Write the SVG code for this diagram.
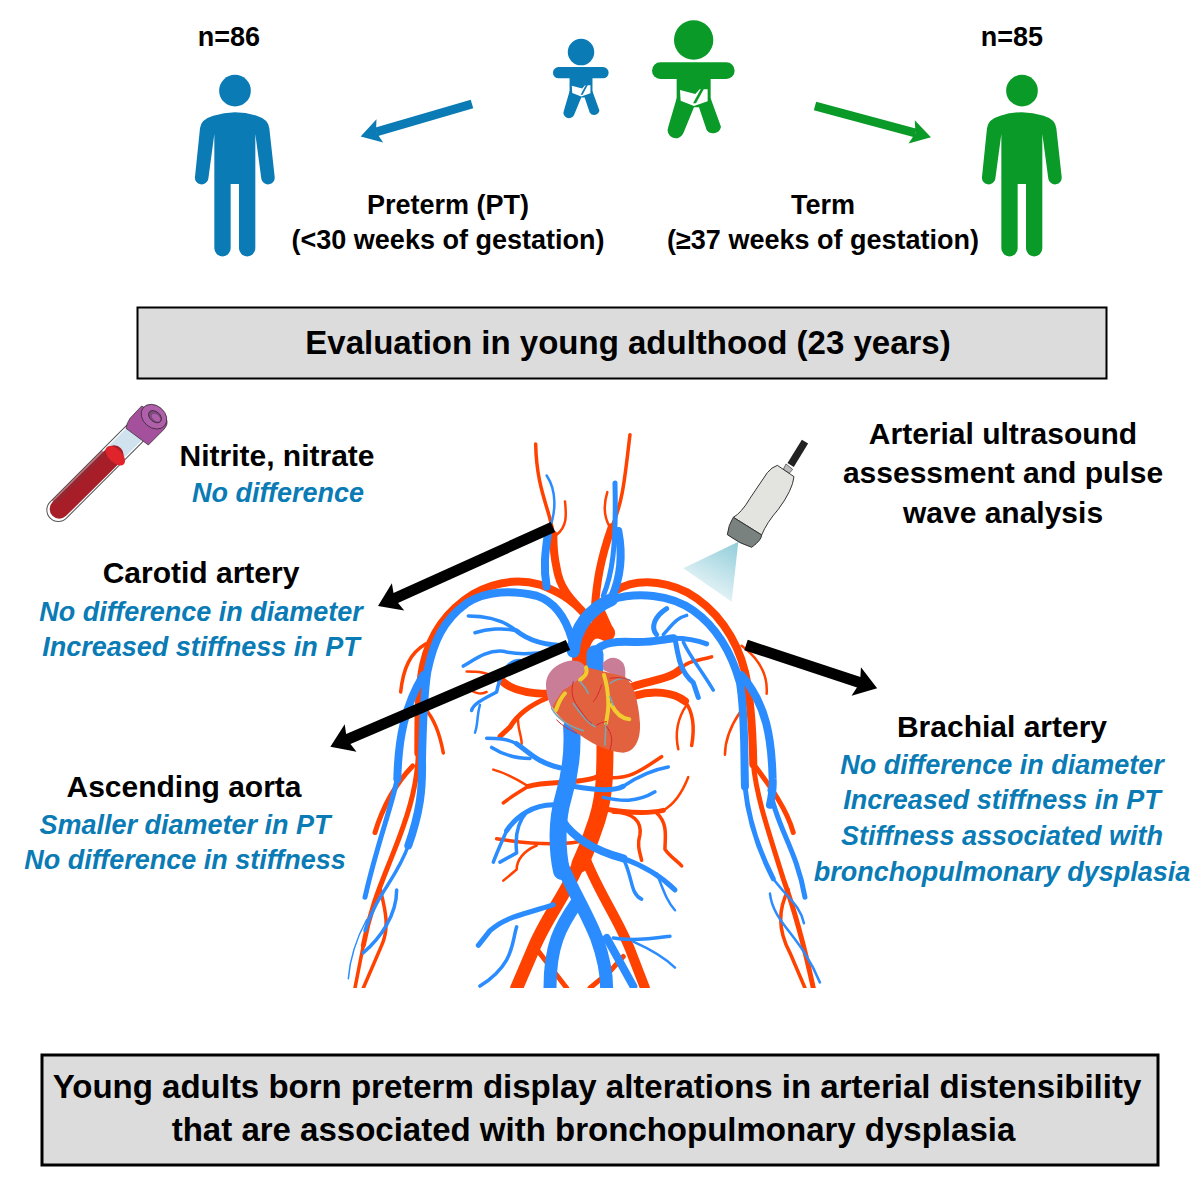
<svg xmlns="http://www.w3.org/2000/svg" xmlns:xlink="http://www.w3.org/1999/xlink" width="1200" height="1200" viewBox="0 0 1200 1200">
<style>
text{font-family:"Liberation Sans",Arial,sans-serif;font-weight:bold;text-anchor:middle;fill:#000}
.t{font-size:27px}
.h{font-size:30px}
.b{font-size:33px}
.i{font-size:27px;font-style:italic;fill:#0a7bb5}
.box{fill:#dcdcdc;stroke:#000}
.v path{fill:none;stroke-linecap:round;stroke-linejoin:round;vector-effect:non-scaling-stroke}
.r path{stroke:#ff4200}
.u path{stroke:#2a8cff}
.w14{stroke-width:17px}.w11{stroke-width:13px}.w8{stroke-width:10px}.w6{stroke-width:8px}.w4{stroke-width:5px}.w3{stroke-width:3.5px}.w2{stroke-width:2.5px}.w1{stroke-width:1.5px}
.c path{fill:none;stroke-linecap:butt}
</style>
<defs>
<symbol id="person" overflow="visible"><circle cx="165" cy="92" r="47.500"/><path d="M60,205Q62,178 100,167Q165,146 230,167Q266,178 268,205L284,350A20,20 0 0 1 244,356L226,222L226,565A24.500,24.500 0 0 1 177,565L177,372L152,372L152,565A24.500,24.500 0 0 1 103,565L103,222L85,356A20,20 0 0 1 45,350Z"/></symbol>
<symbol id="baby" overflow="visible"><circle cx="521" cy="90" r="59"/><rect x="396" y="157" width="248" height="50" rx="25"/><rect x="470" y="200" width="102" height="80"/><path d="M470,265L445,350A24,24 0 0 0 490,370L522,292L537,292L560,360A24,24 0 0 0 603,350L572,265Z"/><path fill="#fff" d="M480,240L526,252L539,238L563,238L563,274L522,288L482,272Z"/><path d="M543,236L552,236L528,280L519,280Z"/></symbol>
<linearGradient id="beam" x1="0.8" y1="0" x2="0.3" y2="1"><stop offset="0" stop-color="#97d0dc"/><stop offset="1" stop-color="#f6fbfc"/></linearGradient>
<marker id="hk" markerUnits="userSpaceOnUse" markerWidth="30" markerHeight="30" refX="5" refY="15" orient="auto" overflow="visible"><path d="M0,0L22,15L0,30L4,15Z" fill="#000"/></marker>
<marker id="hb" markerUnits="userSpaceOnUse" markerWidth="24" markerHeight="24" refX="4" refY="12" orient="auto" overflow="visible"><path d="M0,0L20,12L0,24L4,12Z" fill="#0a7bb5"/></marker>
<marker id="hg" markerUnits="userSpaceOnUse" markerWidth="24" markerHeight="24" refX="4" refY="12" orient="auto" overflow="visible"><path d="M0,0L20,12L0,24L4,12Z" fill="#0a9a28"/></marker>
<clipPath id="cut"><rect x="0" y="0" width="1500" height="1535"/></clipPath>
</defs>

<g id="vessels" class="v" transform="translate(340,420) scale(0.3333,0.37)" clip-path="url(#cut)">
<g class="r">
<path class="w6" d="M740,530C690,480 655,465 600,445C540,430 470,435 400,470C320,515 270,580 250,660C235,720 235,800 235,900"/>
<path class="w4" d="M235,900C232,1000 195,1090 160,1170C125,1250 90,1320 70,1420"/>
<path class="w3" d="M70,1420L45,1535"/>
<path class="w6" d="M825,462C880,430 960,430 1040,465C1130,510 1190,590 1215,680C1232,750 1238,830 1240,930"/>
<path class="w4" d="M1240,930C1250,1020 1285,1110 1330,1240C1370,1340 1395,1430 1420,1535"/>
<path class="w6" d="M735,525C700,490 660,460 650,400C640,360 640,340 640,310"/>
<path class="w3" d="M640,310C630,240 590,190 587,65"/>
<path class="w2" d="M650,310C680,290 680,260 675,220"/>
<path class="w6" d="M765,505C770,440 780,380 815,290"/>
<path class="w3" d="M815,290C850,220 855,150 870,40"/>
<path class="w2" d="M810,290C790,260 790,230 802,195"/>
<path class="w14" d="M722,650C718,590 750,550 800,575"/>
<path class="w14" d="M770,520L795,570"/>
<path class="w14" d="M795,880C795,960 795,1030 760,1110C745,1150 735,1170 720,1200"/>
<path class="w11" d="M730,1170C690,1270 620,1340 580,1430L530,1535"/>
<path class="w8" d="M730,1170C770,1270 830,1340 870,1430L915,1535"/>
<path class="w4" d="M590,1430L680,1535"/>
<path class="w4" d="M850,1450L810,1490L750,1535"/>
<path class="w6" d="M625,740C570,740 510,730 480,700"/>
<path class="w2" d="M480,700C440,680 410,680 380,680"/>
<path class="w2" d="M440,735C420,745 400,735 380,725"/>
<path class="w4" d="M625,750C570,770 530,800 510,830L480,855"/>
<path class="w2" d="M535,800C530,830 545,850 545,875"/>
<path class="w6" d="M880,720C930,705 990,700 1020,675"/>
<path class="w3" d="M1020,675C1040,650 1080,650 1115,640"/>
<path class="w6" d="M885,745C940,730 1000,735 1035,760"/>
<path class="w3" d="M1035,760C1060,790 1065,830 1055,880"/>
<path class="w2" d="M1040,770C1010,810 1005,850 1015,890"/>
<path class="w3" d="M795,965C860,975 900,950 965,910"/>
<path class="w4" d="M770,965C720,985 620,975 565,990"/>
<path class="w3" d="M565,990C530,1010 510,1020 490,1035"/>
<path class="w2" d="M565,990C530,970 500,955 460,945"/>
<path class="w4" d="M785,1050C850,1060 920,1065 970,1055"/>
<path class="w2" d="M970,1055C1010,1035 1030,1000 1045,965"/>
<path class="w3" d="M820,1060C880,1060 905,1085 900,1120C890,1150 900,1170 905,1190"/>
<path class="w3" d="M950,1062C985,1090 975,1130 975,1160C990,1180 1010,1190 1025,1205"/>
<path class="w3" d="M470,1132C560,1145 650,1150 715,1140"/>
<path class="w2" d="M590,1150C550,1165 530,1190 530,1215L490,1245"/>
<path class="w3" d="M258,605C210,630 190,670 182,735"/>
<path class="w3" d="M255,780C285,810 300,850 310,900"/>
<path class="w2" d="M1205,610C1250,640 1285,680 1280,740"/>
<path class="w2" d="M1200,790C1170,830 1155,870 1155,905"/>
<path class="w4" d="M218,935C170,980 130,1040 105,1115"/>
<path class="w4" d="M1245,935C1290,990 1340,1050 1360,1115"/>
<path class="w3" d="M120,1265C135,1320 150,1370 125,1420L70,1535"/>
<path class="w3" d="M1345,1270C1310,1330 1320,1390 1350,1440L1395,1535"/>
</g>
<g class="u">
<path class="w6" d="M695,590C675,530 640,490 590,475C520,460 440,460 380,495C310,540 280,600 262,680C250,750 248,830 246,920C248,1000 240,1060 205,1150"/>
<path class="w3" d="M205,1150C170,1240 110,1280 75,1380"/>
<path class="w11" d="M700,625C705,560 750,510 815,485"/>
<path class="w6" d="M815,485C890,465 990,470 1060,515C1130,560 1175,630 1200,710C1215,790 1212,880 1215,990"/>
<path class="w4" d="M1215,990C1225,1080 1260,1170 1300,1240"/>
<path class="w2" d="M1300,1240C1340,1290 1380,1310 1392,1360"/>
<path class="w6" d="M620,450C610,400 615,360 625,300"/>
<path class="w2" d="M625,300C650,250 650,190 620,150"/>
<path class="w6" d="M815,480C840,430 850,370 835,300"/>
<path class="w4" d="M790,475C815,420 830,350 825,170"/>
<path class="w6" d="M250,690C195,770 175,860 172,970"/>
<path class="w6" d="M1205,690C1280,770 1295,860 1298,970C1300,1000 1295,1020 1290,1040"/>
<path class="w4" d="M172,970C150,1060 110,1150 75,1290"/>
<path class="w4" d="M1290,1000C1310,1100 1370,1160 1395,1290"/>
<path class="w3" d="M170,1270C170,1340 120,1400 70,1440"/>
<path class="w2" d="M1290,1280C1300,1360 1380,1390 1440,1520"/>
<path class="w1" d="M80,1350C50,1400 30,1450 25,1510"/>
<path class="w14" d="M765,670L765,632"/>
<path class="w6" d="M765,625C790,600 830,598 880,600C930,602 960,595 1000,590"/>
<path class="w14" d="M695,830C700,900 690,960 670,1020C650,1080 650,1160 665,1220"/>
<path class="w11" d="M665,1200C690,1260 740,1330 770,1400C790,1450 800,1490 800,1535"/>
<path class="w11" d="M710,1305C660,1370 630,1420 630,1535"/>
<path class="w6" d="M665,1080C700,1130 770,1165 850,1185"/>
<path class="w4" d="M850,1185C910,1205 960,1230 1005,1270"/>
<path class="w3" d="M850,1185C880,1240 870,1280 905,1295"/>
<path class="w2" d="M950,1225C970,1270 980,1300 1005,1325"/>
<path class="w6" d="M800,1400L880,1530"/>
<path class="w4" d="M640,1310C560,1335 500,1340 450,1380L415,1420"/>
<path class="w3" d="M530,1370C515,1410 525,1470 420,1530"/>
<path class="w3" d="M820,1400C880,1410 950,1400 990,1395"/>
<path class="w2" d="M880,1410C930,1430 970,1450 1005,1480"/>
<path class="w4" d="M685,610C620,610 570,600 530,570"/>
<path class="w3" d="M530,570C490,540 440,530 385,530"/>
<path class="w3" d="M530,570C490,560 440,565 405,575"/>
<path class="w3" d="M670,615C600,635 530,635 490,625C440,620 400,650 370,665"/>
<path class="w3" d="M540,650C500,650 480,690 470,735C440,750 400,765 395,785"/>
<path class="w2" d="M420,770C410,800 415,820 405,845"/>
<path class="w4" d="M660,940C590,925 570,900 530,875"/>
<path class="w3" d="M530,875C500,860 470,860 440,860"/>
<path class="w3" d="M570,915C530,915 490,905 455,885"/>
<path class="w4" d="M700,990C760,1000 820,1005 850,990"/>
<path class="w3" d="M850,990C900,960 940,945 985,938"/>
<path class="w3" d="M790,1020C840,1030 890,1035 945,1005"/>
<path class="w4" d="M640,1040C580,1040 530,1070 500,1110"/>
<path class="w3" d="M500,1110C480,1150 470,1170 460,1195"/>
<path class="w3" d="M560,1060C530,1090 525,1130 530,1170L480,1195"/>
<path class="w4" d="M950,580C930,560 945,530 980,510"/>
<path class="w3" d="M970,580C1000,550 1010,535 1040,528"/>
<path class="w4" d="M1000,590C1040,590 1070,595 1100,605"/>
<path class="w4" d="M1005,590C1015,640 1020,680 1060,710L1075,750"/>
<path class="w3" d="M1030,600C1050,640 1080,670 1120,730"/>
</g>
</g>

<g id="heart" transform="translate(530,630) scale(0.3333,0.3333)">
<path fill="#c97d96" d="M218,100C240,75 265,80 280,100C290,120 285,140 285,150L220,120Z"/>
<path d="M165,110L285,140C310,160 325,210 330,280C332,330 315,365 280,368C230,365 180,340 130,300C95,270 65,240 55,205L100,160Z" fill="#e2613f"/>
<path fill="#c97d96" d="M48,165C48,130 75,100 120,92C145,90 165,100 165,115C160,140 130,165 100,180C85,200 75,215 65,235C55,210 48,190 48,165Z"/>
<g fill="none" stroke-linecap="round" stroke-linejoin="round">
<path stroke="#f0cc30" stroke-width="12" d="M168,112C175,135 160,140 150,150M105,190C90,205 85,220 78,240M222,135C230,160 235,190 235,225C235,250 230,265 228,280M245,225C255,245 270,265 298,268"/>
<path stroke="#7aa6b0" stroke-width="5" d="M65,235C85,270 120,290 160,302M150,155C165,170 170,180 175,190M130,220C150,250 175,280 195,290M240,160C270,140 285,145 300,150M240,200L250,225M228,280L225,345"/>
<path stroke="#d8262f" stroke-width="3" d="M130,155C120,190 130,215 150,240C165,260 170,270 185,280M215,165C205,190 200,205 190,215M240,145C270,140 290,145 305,155M230,290C245,310 250,330 240,360M80,270C100,290 120,300 140,310M200,285C210,280 220,275 230,275"/>
</g>
</g>

<g id="test-tube" transform="translate(30,395) scale(0.3333)">
<path d="M85,345L312,118" stroke="#555" stroke-width="72" stroke-linecap="round" fill="none"/>
<path d="M85,345L312,118" stroke="#fff" stroke-width="66" stroke-linecap="round" fill="none"/>
<path d="M150,280L320,110" stroke="#cfe2ee" stroke-width="58" fill="none"/>
<path d="M88,342L252,180" stroke="#a81e28" stroke-width="58" stroke-linecap="round" fill="none"/>
<path d="M72,322L222,172" stroke="#8d2b35" stroke-width="18" fill="none" opacity="0.6"/>
<ellipse cx="256" cy="182" rx="20" ry="36" transform="rotate(-45 256 182)" fill="#e0242c"/>
<path d="M335,33L410,75Q415,90 400,105L355,150L288,100Q290,85 300,70Z" fill="#a4509c" stroke="#222" stroke-width="2"/>
<ellipse cx="372" cy="65" rx="42" ry="33" transform="rotate(40 372 65)" fill="#b060aa" stroke="#222" stroke-width="2"/>
<ellipse cx="375" cy="65" rx="22" ry="15" transform="rotate(40 375 65)" fill="#7e4a80" stroke="#222" stroke-width="2"/>
<ellipse cx="378" cy="68" rx="15" ry="9" transform="rotate(40 378 68)" fill="#b060aa"/>
</g>

<g id="probe" transform="translate(670,430) scale(0.3333)">
<path d="M205,335L40,415L185,515Z" fill="url(#beam)"/>
<path d="M405,35L362,105" stroke="#222" stroke-width="22" fill="none"/>
<path d="M348,102L368,118L358,130L340,118Z" fill="#bbb" stroke="#333" stroke-width="2"/>
<path d="M322,106L372,140Q368,180 325,238Q290,278 275,315L190,262Q215,248 240,205L292,128Q305,112 322,106Z" fill="#e3e3df" stroke="#333" stroke-width="3"/>
<path d="M190,262L275,315Q275,330 245,352Q210,342 172,314Q175,285 190,262Z" fill="#79827f" stroke="#333" stroke-width="3"/>
</g>

<g id="connectors" class="c">
<path d="M553,527L393.500,599" stroke="#000" stroke-width="11" marker-end="url(#hk)"/>
<path d="M568,645L346,740" stroke="#000" stroke-width="11" marker-end="url(#hk)"/>
<path d="M746,645L861,683" stroke="#000" stroke-width="11" marker-end="url(#hk)"/>
<path d="M472,104L376,132" stroke="#0a7bb5" stroke-width="9" marker-end="url(#hb)"/>
<path d="M815,106L915.500,133" stroke="#0a9a28" stroke-width="9" marker-end="url(#hg)"/>
</g>

<g id="person-preterm" transform="translate(180,60) scale(0.3333)" fill="#0a7bb5"><use xlink:href="#person" href="#person"/></g>
<g id="person-term" transform="translate(967,60) scale(0.3333)" fill="#0a9a28"><use xlink:href="#person" href="#person"/></g>
<g id="baby-preterm" transform="translate(464,31.800) scale(0.2246)" fill="#0a7bb5"><use xlink:href="#baby" href="#baby"/></g>
<g id="baby-term" transform="translate(520,10) scale(0.3333)" fill="#0a9a28"><use xlink:href="#baby" href="#baby"/></g>

<g id="label-preterm"><text class="t" x="229" y="46">n=86</text><text class="t" x="448" y="214">Preterm (PT)</text><text class="t" x="448" y="249">(&lt;30 weeks of gestation)</text></g>
<g id="label-term"><text class="t" x="1012" y="46">n=85</text><text class="t" x="823" y="214">Term</text><text class="t" x="823" y="249">(≥37 weeks of gestation)</text></g>

<g id="evaluation"><rect class="box" x="137.500" y="307.500" width="969" height="71" stroke-width="2"/><text class="b" x="628" y="354">Evaluation in young adulthood (23 years)</text></g>

<g id="nitrite"><text class="h" x="277" y="466">Nitrite, nitrate</text><text class="i" x="278" y="502">No difference</text></g>
<g id="carotid"><text class="h" x="201" y="583">Carotid artery</text><text class="i" x="201" y="621">No difference in diameter</text><text class="i" x="201" y="656">Increased stiffness in PT</text></g>
<g id="aorta"><text class="h" x="184" y="797">Ascending aorta</text><text class="i" x="185" y="834">Smaller diameter in PT</text><text class="i" x="185" y="869">No difference in stiffness</text></g>
<g id="ultrasound"><text class="h" x="1003" y="444">Arterial ultrasound</text><text class="h" x="1003" y="483">assessment and pulse</text><text class="h" x="1003" y="523">wave analysis</text></g>
<g id="brachial"><text class="h" x="1002" y="737">Brachial artery</text><text class="i" x="1002" y="774">No difference in diameter</text><text class="i" x="1002" y="809">Increased stiffness in PT</text><text class="i" x="1002" y="845">Stiffness associated with</text><text class="i" x="1002" y="881">bronchopulmonary dysplasia</text></g>

<g id="conclusion"><rect class="box" x="42" y="1055" width="1116" height="110" stroke-width="3"/><text class="b" x="597" y="1098">Young adults born preterm display alterations in arterial distensibility</text><text class="b" x="593.500" y="1141">that are associated with bronchopulmonary dysplasia</text></g>
</svg>
